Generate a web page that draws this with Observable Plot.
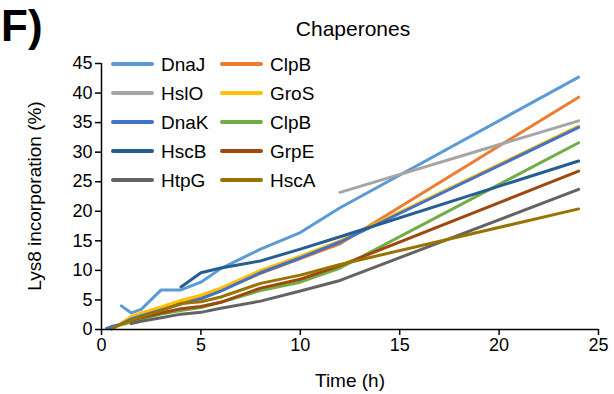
<!DOCTYPE html>
<html><head><meta charset="utf-8">
<script src="https://cdn.jsdelivr.net/npm/d3@7"></script>
<script src="https://cdn.jsdelivr.net/npm/@observablehq/plot@0.6"></script>
<style>
body{margin:0;background:#fff}
svg{font-family:"Liberation Sans",Arial,sans-serif}
</style></head><body><div id="chart"></div>
<script>
// Series in drawing order (later drawn on top)
const seriesNames = ["DnaJ","ClpB","HslO","GroS","DnaK","ClpB","HscB","GrpE","HtpG","HscA"];
const seriesColors = ["#5B9BD5","#ED7D31","#A5A5A5","#FFC000","#4472C4","#70AD47","#255E91","#9E480E","#636363","#997300"];
// Legend order (row-wise, 2 columns)
const legendOrder = [0,1,2,3,4,5,6,7,8,9];

const dnaJ  = [[1,4.0],[1.5,2.8],[2,3.4],[3,6.7],[4,6.7],[5,8.0],[6,10.3],[8,13.6],[10,16.4],[12,20.6],[24,42.7]];
const clpB1 = [[1,1.1],[1.5,2.0],[2,2.5],[3,3.5],[4,4.5],[5,5.5],[6,6.6],[8,9.5],[10,12.0],[12,14.5],[24,39.3]];
const hslO  = [[12,23.2],[24,35.3]];
const groS  = [[0.5,0.1],[1,1.0],[1.5,2.2],[2,2.8],[3,3.8],[4,4.9],[5,5.8],[6,7.0],[8,10.0],[10,12.4],[12,15.0],[24,34.4]];
const dnaK  = [[0.25,0.2],[0.5,0.5],[1,0.9],[1.5,1.8],[2,2.3],[3,3.3],[4,4.3],[5,5.2],[6,6.5],[8,9.6],[10,12.1],[12,14.8],[24,34.2]];
const clpB2 = [[1,0.8],[1.5,1.2],[2,1.8],[3,2.6],[4,3.2],[5,3.7],[6,4.6],[8,6.6],[10,8.0],[12,10.4],[24,31.6]];
const hscB  = [[4,7.2],[5,9.6],[6,10.4],[8,11.6],[10,13.6],[12,15.7],[24,28.5]];
const grpE  = [[1.5,1.5],[2,2.0],[3,2.8],[4,3.5],[5,3.9],[6,4.6],[8,7.0],[10,8.5],[12,10.8],[24,26.8]];
const htpG  = [[1.5,1.0],[2,1.4],[3,2.0],[4,2.6],[5,2.9],[6,3.6],[8,4.8],[10,6.5],[12,8.3],[24,23.7]];
const hscA  = [[0.5,0.1],[1,0.9],[1.5,1.6],[2,2.1],[3,3.2],[4,4.4],[5,4.7],[6,5.5],[8,7.8],[10,9.2],[12,11.0],[24,20.4]];
const seriesValues = [dnaJ,clpB1,hslO,groS,dnaK,clpB2,hscB,grpE,htpG,hscA];

const xTicks = [0,5,10,15,20,25];
const yTicks = [0,5,10,15,20,25,30,35,40,45];

const rows = seriesValues.flatMap((vals, i) => vals.map(([t, v]) => ({id: i, name: seriesNames[i], t, v})));

const plot = Plot.plot({
  width: 614, height: 394,
  marginLeft: 101, marginRight: 16, marginTop: 63, marginBottom: 65,
  style: {fontSize: "18px", color: "#000", fontFamily: '"Liberation Sans",Arial,sans-serif', background: "#fff", overflow: "visible"},
  x: {domain: [0,25], ticks: xTicks, label: null},
  y: {domain: [0,45], ticks: yTicks, label: null},
  color: {domain: d3.range(seriesNames.length), range: seriesColors},
  marks: [
    Plot.axisX({ticks: xTicks, tickSize: 6, tickPadding: 3, fontSize: 18, stroke: "#000", strokeWidth: 1.5, label: null}),
    Plot.axisY({ticks: yTicks, tickSize: 6, tickPadding: 3, fontSize: 18, stroke: "#000", strokeWidth: 1.5, label: null}),
    Plot.line(rows, {x: "t", y: "v", z: "id", stroke: "id", strokeWidth: 3, strokeLinecap: "round", strokeLinejoin: "round"}),
    Plot.ruleY([0], {stroke: "#000", strokeWidth: 1.5}),
    Plot.ruleX([0], {stroke: "#000", strokeWidth: 1.5})
  ]
});
document.getElementById("chart").appendChild(plot);

const svg = d3.select(plot);
svg.append("text").attr("x", 1).attr("y", 41).attr("text-anchor", "start").attr("font-size", 44).attr("font-weight", "bold").attr("fill", "#000").text("F)");
svg.append("text").attr("x", 353).attr("y", 36).attr("text-anchor", "middle").attr("font-size", 21).attr("fill", "#000").text("Chaperones");
svg.append("text").attr("transform", "translate(41,196) rotate(-90)").attr("text-anchor", "middle").attr("font-size", 19).attr("fill", "#000").text("Lys8 incorporation (%)");
svg.append("text").attr("x", 350).attr("y", 387).attr("text-anchor", "middle").attr("font-size", 19).attr("fill", "#000").text("Time (h)");

const leg = svg.append("g");
legendOrder.forEach((idx, k) => {
  const col = k % 2, row = Math.floor(k / 2);
  const x0 = col === 0 ? 113 : 222;
  const y0 = 64 + row * 29;
  leg.append("line").attr("x1", x0).attr("x2", x0 + 39).attr("y1", y0).attr("y2", y0)
    .attr("stroke", seriesColors[idx]).attr("stroke-width", 4).attr("stroke-linecap", "round");
  leg.append("text").attr("x", x0 + 48).attr("y", y0).attr("dy", "0.36em").attr("text-anchor", "start").attr("font-size", 19).attr("fill", "#000").text(seriesNames[idx]);
});
</script></body></html>
